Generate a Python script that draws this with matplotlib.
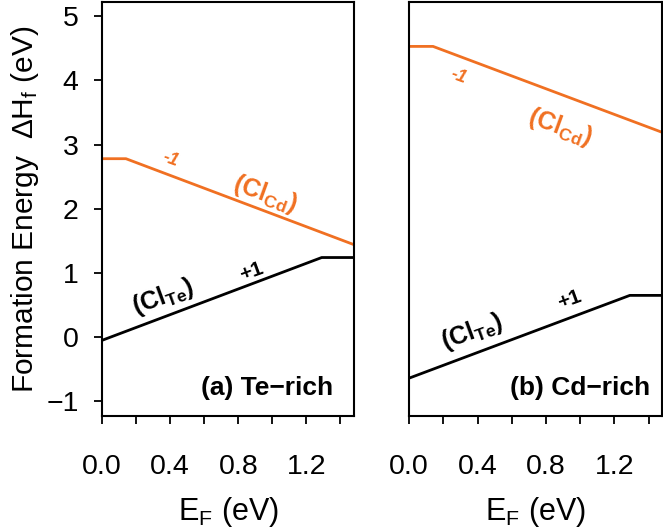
import matplotlib
matplotlib.use("Agg")
import matplotlib.pyplot as plt

plt.rcParams["font.family"] = ["Liberation Sans", "DejaVu Sans"]
plt.rcParams["mathtext.fontset"] = "custom"
plt.rcParams["mathtext.rm"] = "Liberation Sans"
plt.rcParams["mathtext.it"] = "Liberation Sans:italic"
plt.rcParams["mathtext.bf"] = "Liberation Sans:bold"

# Fermi level grid points (kinks at the transition levels)
ef_cd = [0.0, 0.14, 1.48]
ef_te = [0.0, 1.29, 1.48]

# (a) Te-rich
te_rich_cl_cd = [2.78, 2.78, 1.44]
te_rich_cl_te = [-0.05, 1.24, 1.24]
# (b) Cd-rich
cd_rich_cl_cd = [4.53, 4.53, 3.19]
cd_rich_cl_te = [-0.64, 0.65, 0.65]

orange = "#f07022"

fig = plt.figure(figsize=(6.63, 5.32), dpi=100)
ax_a = fig.add_axes([0.154, 0.218, 0.380, 0.778])
ax_b = fig.add_axes([0.617, 0.218, 0.382, 0.778])

panels = [
    (ax_a, te_rich_cl_cd, te_rich_cl_te, "(a) Te\u2212rich",
     [(0.40, 2.77), (0.96, 2.22), (0.36, 0.63), (0.88, 1.02)], (1.36, -0.80)),
    (ax_b, cd_rich_cl_cd, cd_rich_cl_te, "(b) Cd\u2212rich",
     [(0.29, 4.06), (0.88, 3.27), (0.37, 0.08), (0.94, 0.58)], (1.41, -0.80)),
]

for ax, cl_cd, cl_te, title, pos, tpos in panels:
    ax.plot(ef_cd, cl_cd, color=orange, lw=2)
    ax.plot(ef_te, cl_te, color="black", lw=2)
    ax.set_xlim(0, 1.48)
    ax.set_ylim(-1.23, 5.22)
    ax.set_xticks([0.0, 0.2, 0.4, 0.6, 0.8, 1.0, 1.2, 1.4])
    ax.set_xticklabels(["0.0", "", "0.4", "", "0.8", "", "1.2", ""])
    ax.tick_params(axis="x", direction="out", length=6, width=1.3,
                   labelsize=20.5, pad=21)
    for sp in ax.spines.values():
        sp.set_linewidth(1.5)
    ax.set_xlabel("E$_\\mathregular{F}$ (eV)", fontsize=22, labelpad=11)

    ax.text(*pos[0], "-1", color=orange, fontsize=13, fontweight="bold",
            style="italic", rotation=-20, ha="center", va="center")
    ax.text(*pos[1], "(Cl$_\\mathbf{Cd}$)", color=orange, fontsize=18,
            fontweight="bold", rotation=-20, ha="center", va="center")
    ax.text(*pos[2], "(Cl$_\\mathregular{Te}$)", color="black", fontsize=18,
            fontweight="bold", rotation=20, ha="center", va="center")
    ax.text(*pos[3], "+1", color="black", fontsize=15, fontweight="bold",
            rotation=20, ha="center", va="center")
    ax.text(*tpos, title, fontsize=19, fontweight="bold",
            ha="right", va="center")

ax_a.set_yticks([-1, 0, 1, 2, 3, 4, 5])
ax_a.set_yticklabels(["\u22121", "0", "1", "2", "3", "4", "5"])
ax_a.tick_params(axis="y", direction="out", length=6, width=1.3,
                 labelsize=20.5, pad=11)
ax_a.set_ylabel("Formation Energy  \u0394H$_\\mathregular{f}$ (eV)",
                fontsize=21.5, labelpad=4)
ax_b.set_yticks([])

fig.savefig("out.png", dpi=100)
